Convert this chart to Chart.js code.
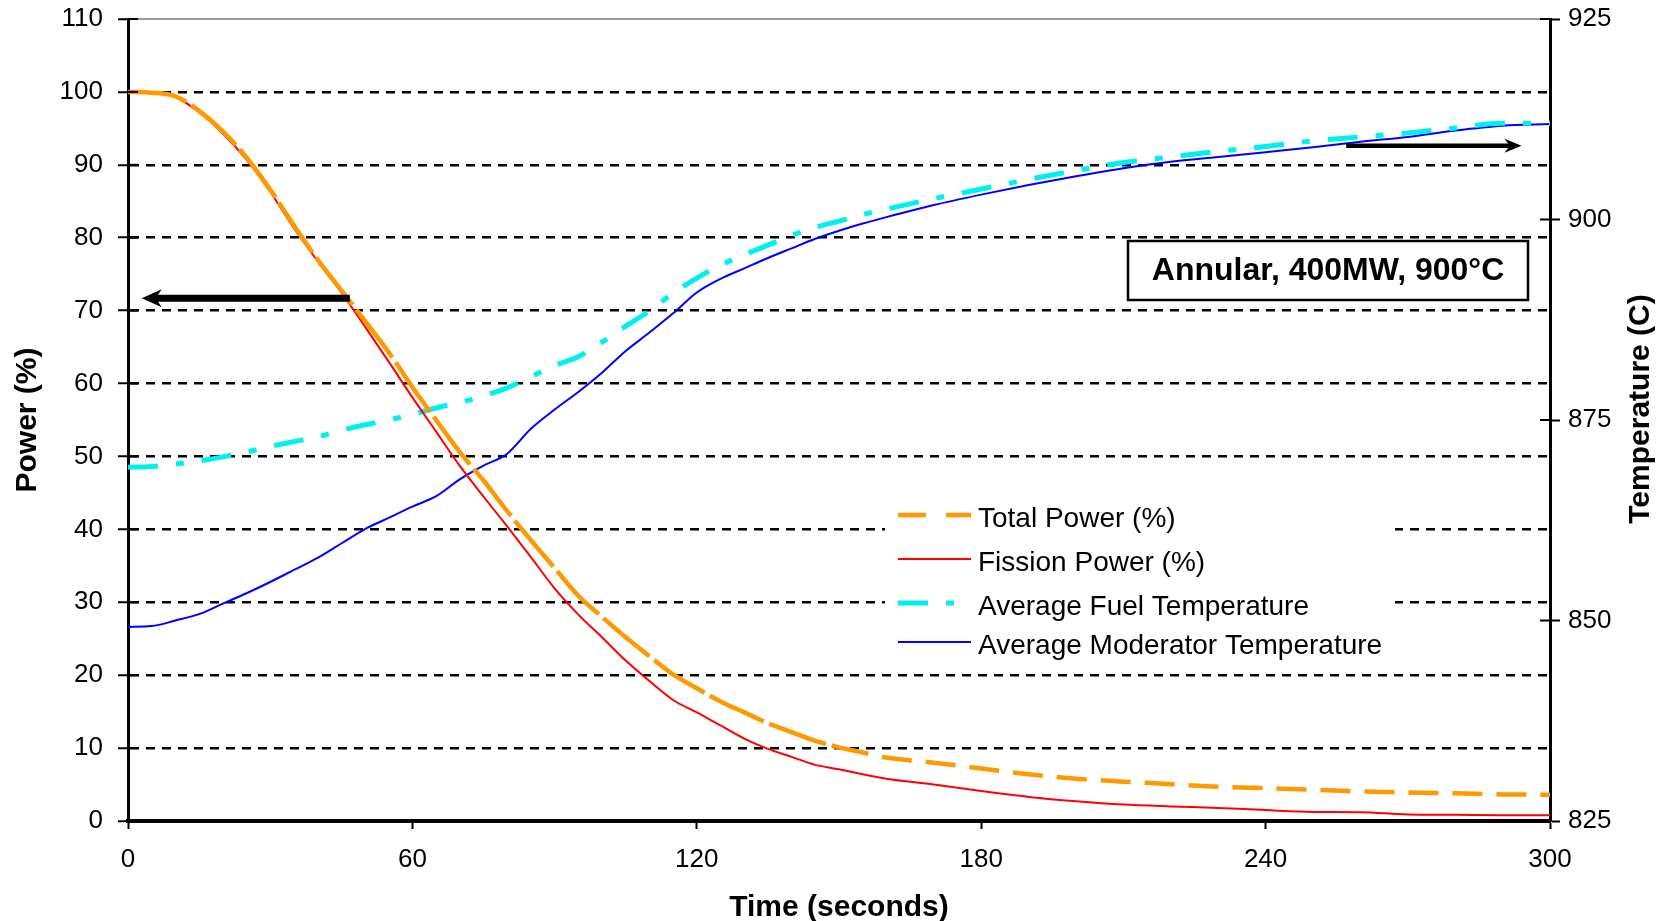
<!DOCTYPE html>
<html>
<head>
<meta charset="utf-8">
<script src="https://cdn.jsdelivr.net/npm/chart.js@4.4.0/dist/chart.umd.min.js"></script>
<style>
  html, body { margin: 0; padding: 0; background: #fff; }
  #wrap { width: 1665px; height: 921px; }
</style>
</head>
<body>
<div id="wrap"><canvas id="chart" width="1665" height="921"></canvas></div>
<script>
// Time axis (seconds) shared by all four series
const timeSec = [0, 5, 10, 15, 20, 25, 30, 35, 40, 45, 50, 55, 60, 65, 70, 75, 80, 85, 90, 95,
    100, 105, 110, 115, 120, 125, 130, 135, 140, 145, 150, 155, 160, 170, 180, 190, 200,
    210, 220, 230, 240, 250, 260, 270, 280, 290, 300];

// Power (%) - left axis
const totalPower = [100, 99.9, 99.4, 97.4, 94.6, 91.0, 86.6, 81.7, 77.0, 72.8, 68.6, 64.3, 59.5,
    55.0, 50.6, 46.7, 42.5, 38.5, 34.7, 30.9, 28.0, 25.2, 22.6, 20.1, 18.2, 16.4, 14.9, 13.4,
    12.2, 11.0, 10.1, 9.4, 8.7, 8.0, 7.2, 6.4, 5.8, 5.4, 5.05, 4.7, 4.5, 4.3, 4.05, 3.9, 3.8,
    3.65, 3.6];
const fissionPower = [100, 99.9, 99.3, 97.2, 94.3, 90.7, 86.3, 81.3, 76.8, 72.5, 67.8, 63.0, 58.1,
    53.4, 48.7, 44.5, 40.4, 36.2, 31.9, 28.3, 25.2, 22.0, 19.2, 16.6, 14.9, 13.1, 11.3, 9.9,
    8.8, 7.7, 7.1, 6.4, 5.8, 5.0, 4.1, 3.3, 2.7, 2.25, 2.0, 1.8, 1.5, 1.25, 1.2, 0.9, 0.85,
    0.8, 0.8];

// Temperature (C) - right axis
const fuelTemp = [869.1, 869.2, 869.5, 869.9, 870.4, 871.0, 871.7, 872.3, 872.9, 873.7, 874.4,
    875.0, 875.7, 876.5, 877.2, 878.0, 879.0, 880.4, 881.8, 882.9, 884.7, 886.7, 888.6, 890.8,
    892.7, 894.3, 895.6, 896.8, 898.0, 899.0, 899.8, 900.6, 901.3, 902.6, 903.8, 905.0, 906.1,
    907.1, 907.8, 908.5, 909.1, 909.8, 910.3, 910.8, 911.4, 912.0, 912.0];
const moderatorTemp = [849.2, 849.3, 850.0, 850.8, 852.1, 853.4, 854.8, 856.3, 857.8, 859.6, 861.4,
    862.8, 864.2, 865.5, 867.6, 869.3, 870.8, 873.9, 876.3, 878.5, 880.9, 883.6, 885.9, 888.3,
    890.9, 892.6, 893.9, 895.2, 896.4, 897.6, 898.6, 899.5, 900.3, 901.8, 903.1, 904.3, 905.4,
    906.4, 907.2, 907.8, 908.4, 909.0, 909.7, 910.3, 911.1, 911.7, 911.9];

// Tick labels
const timeTicks = [0, 60, 120, 180, 240, 300];
const powerTicks = [0, 10, 20, 30, 40, 50, 60, 70, 80, 90, 100, 110];
const tempTicks = [825, 850, 875, 900, 925];

// Annotations (in data units: time, power / temperature)
const leftArrow = { from: [46.8, 71.7], to: [2.9, 71.7] };
const rightArrow = { from: [257, 909.2], to: [294, 909.2] };
const noteText = 'Annular, 400MW, 900°C';

const FONT = "'Liberation Sans', Arial, sans-serif";

function pairs(values) {
    return timeSec.map((t, i) => ({ x: t, y: values[i] }));
}

function drawArrow(ctx, x1, y1, x2, y2, width, headLen, headHalf) {
    const dir = Math.sign(x2 - x1);
    ctx.save();
    ctx.strokeStyle = '#000';
    ctx.fillStyle = '#000';
    ctx.lineWidth = width;
    ctx.beginPath();
    ctx.moveTo(x1, y1);
    ctx.lineTo(x2 - dir * headLen * 0.6, y2);
    ctx.stroke();
    ctx.beginPath();
    ctx.moveTo(x2, y2);
    ctx.lineTo(x2 - dir * headLen, y2 - headHalf);
    ctx.lineTo(x2 - dir * headLen * 0.7, y2);
    ctx.lineTo(x2 - dir * headLen, y2 + headHalf);
    ctx.closePath();
    ctx.fill();
    ctx.restore();
}

// keep the plot area where the layout padding puts it
function noEdgePadding(s) {
    s.paddingTop = 0;
    s.paddingBottom = 0;
}

const decorPlugin = {
    id: 'decor',
    afterDraw(chart) {
        const ctx = chart.ctx;
        const { left, right, top } = chart.chartArea;
        const x = chart.scales.x;
        const y = chart.scales.y;
        const y2 = chart.scales.y2;

        ctx.save();
        // top frame line
        ctx.strokeStyle = '#9a9a9a';
        ctx.lineWidth = 2;
        ctx.beginPath();
        ctx.moveTo(left, top);
        ctx.lineTo(right, top);
        ctx.stroke();

        // inner halves of the cross ticks
        ctx.strokeStyle = '#000';
        ctx.lineWidth = 2;
        powerTicks.forEach(v => {
            const py = y.getPixelForValue(v);
            ctx.beginPath();
            ctx.moveTo(left, py);
            ctx.lineTo(left + 10, py);
            ctx.stroke();
        });
        tempTicks.forEach(v => {
            const py = y2.getPixelForValue(v);
            ctx.beginPath();
            ctx.moveTo(right - 10, py);
            ctx.lineTo(right, py);
            ctx.stroke();
        });

        // arrows
        drawArrow(ctx, x.getPixelForValue(leftArrow.from[0]), y.getPixelForValue(leftArrow.from[1]),
            x.getPixelForValue(leftArrow.to[0]), y.getPixelForValue(leftArrow.to[1]), 7, 20, 9);
        drawArrow(ctx, x.getPixelForValue(rightArrow.from[0]), y2.getPixelForValue(rightArrow.from[1]),
            x.getPixelForValue(rightArrow.to[0]), y2.getPixelForValue(rightArrow.to[1]), 4.5, 17, 7);

        // note box
        const bx = 1128, by = 241, bw = 400, bh = 59;
        ctx.fillStyle = '#fff';
        ctx.fillRect(bx, by, bw, bh);
        ctx.strokeStyle = '#000';
        ctx.lineWidth = 2.5;
        ctx.strokeRect(bx, by, bw, bh);
        ctx.fillStyle = '#000';
        ctx.font = 'bold 32px ' + FONT;
        ctx.textAlign = 'center';
        ctx.textBaseline = 'middle';
        ctx.fillText(noteText, bx + bw / 2, by + bh / 2 + 1);

        // legend
        ctx.fillStyle = '#fff';
        ctx.fillRect(885, 492, 510, 172);
        const rows = [515, 559, 603, 642];
        const sampleDash = [[28, 20], [], [30, 18, 8, 40], []];
        chart.data.datasets.forEach((ds, i) => {
            ctx.save();
            ctx.strokeStyle = ds.borderColor;
            ctx.lineWidth = ds.borderWidth;
            ctx.setLineDash(sampleDash[i]);
            ctx.beginPath();
            ctx.moveTo(898, rows[i]);
            ctx.lineTo(971, rows[i]);
            ctx.stroke();
            ctx.restore();
            ctx.fillStyle = '#000';
            ctx.font = '28px ' + FONT;
            ctx.textAlign = 'left';
            ctx.textBaseline = 'middle';
            ctx.fillText(ds.label, 978, rows[i] + 4);
        });

        // right axis title, reading bottom to top
        ctx.translate(1641, 409);
        ctx.rotate(-Math.PI / 2);
        ctx.fillStyle = '#000';
        ctx.font = 'bold 30px ' + FONT;
        ctx.textAlign = 'center';
        ctx.textBaseline = 'middle';
        ctx.fillText('Temperature (C)', 0, 0);
        ctx.restore();
    }
};

const tickFont = { family: FONT, size: 26 };
const titleFont = { family: FONT, size: 30, weight: 'bold', lineHeight: 0.9 };

new Chart(document.getElementById('chart').getContext('2d'), {
    type: 'line',
    data: {
        datasets: [
            {
                label: 'Total Power (%)',
                data: pairs(totalPower),
                borderColor: '#FF9900',
                borderWidth: 4.5,
                yAxisID: 'y',
                segment: {
                    borderDash: c => (c.p0.parsed.x < 150 ? [60, 6] : [30, 14])
                }
            },
            {
                label: 'Fission Power (%)',
                data: pairs(fissionPower),
                borderColor: '#FF0000',
                borderWidth: 2,
                yAxisID: 'y'
            },
            {
                label: 'Average Fuel Temperature',
                data: pairs(fuelTemp),
                borderColor: '#00F0F0',
                borderWidth: 5,
                borderDash: [30, 18, 8, 18],
                yAxisID: 'y2'
            },
            {
                label: 'Average Moderator Temperature',
                data: pairs(moderatorTemp),
                borderColor: '#0000FF',
                borderWidth: 2,
                yAxisID: 'y2'
            }
        ]
    },
    options: {
        responsive: false,
        animation: false,
        layout: { padding: { top: 19, left: 0, right: 0, bottom: 0 } },
        elements: {
            point: { radius: 0 },
            line: { cubicInterpolationMode: 'monotone', borderCapStyle: 'butt', fill: false }
        },
        plugins: {
            legend: { display: false },
            tooltip: { enabled: false }
        },
        scales: {
            x: {
                type: 'linear',
                min: 0,
                max: 300,
                afterBuildTicks: s => { s.ticks = timeTicks.map(v => ({ value: v })); },
                afterFit: s => { s.height = 100; },
                grid: { drawOnChartArea: false, tickLength: 8, tickColor: '#000', tickWidth: 2 },
                border: { color: '#000', width: 4 },
                ticks: { color: '#000', font: tickFont, padding: 15, maxRotation: 0 },
                title: {
                    display: true,
                    text: 'Time (seconds)',
                    color: '#000',
                    font: titleFont,
                    padding: { top: 0, bottom: 0 }
                }
            },
            y: {
                position: 'left',
                min: 0,
                max: 110,
                afterBuildTicks: s => { s.ticks = powerTicks.map(v => ({ value: v })); },
                afterFit: s => { s.width = 128; noEdgePadding(s); },
                grid: {
                    color: c => (c.tick && (c.tick.value === 0 || c.tick.value === 110)) ? 'rgba(0,0,0,0)' : '#000',
                    lineWidth: 2.5,
                    tickLength: 10,
                    tickColor: '#000',
                    tickWidth: 2
                },
                border: { color: '#000', width: 3, dash: [9, 7] },
                ticks: { color: '#000', font: tickFont, padding: 15 },
                title: {
                    display: true,
                    text: 'Power (%)',
                    color: '#000',
                    font: titleFont,
                    padding: { top: 14, bottom: 0 }
                }
            },
            y2: {
                position: 'right',
                min: 825,
                max: 925,
                afterBuildTicks: s => { s.ticks = tempTicks.map(v => ({ value: v })); },
                afterFit: s => { s.width = 115; noEdgePadding(s); },
                grid: { drawOnChartArea: false, tickLength: 10, tickColor: '#000', tickWidth: 2 },
                border: { color: '#000', width: 3 },
                ticks: { color: '#000', font: tickFont, padding: 8 },
                title: { display: false }
            }
        }
    },
    plugins: [decorPlugin]
});
</script>
</body>
</html>
